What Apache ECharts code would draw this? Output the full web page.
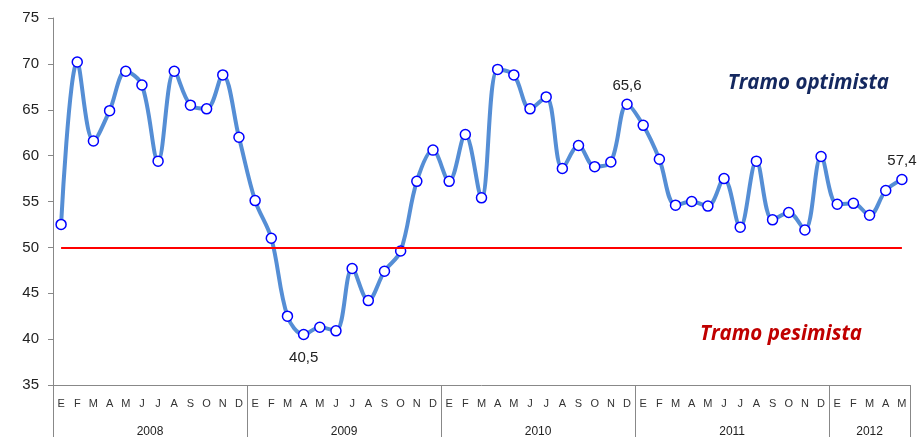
<!DOCTYPE html>
<html>
<head>
<meta charset="utf-8">
<script src="https://cdn.jsdelivr.net/npm/echarts@6/dist/echarts.min.js"></script>
<style>
  html, body { margin: 0; padding: 0; background: #fff; }
  #chart { width: 920px; height: 438px; }
</style>
</head>
<body>
<div id="chart"></div>
<script>
// meses (E..D) y años del periodo
const months = ['E', 'F', 'M', 'A', 'M', 'J', 'J', 'A', 'S', 'O', 'N', 'D']
const years = ['2008', '2009', '2010', '2011', '2012']
const monthsPerYear = [12, 12, 12, 12, 5]
const yTicks = { min: 35, max: 75, step: 5 }
const threshold = 50

// índice mensual, ene 2008 - may 2012
const values2008 = [52.5, 70.2, 61.6, 64.9, 69.2, 67.7, 59.4, 69.2, 65.5, 65.1, 68.8, 62.0]
const values2009 = [55.1, 51.0, 42.5, 40.5, 41.3, 40.9, 47.7, 44.2, 47.4, 49.6, 57.2, 60.6]
const values2010 = [57.2, 62.3, 55.4, 69.4, 68.8, 65.1, 66.4, 58.6, 61.1, 58.8, 59.3, 65.6]
const values2011 = [63.3, 59.6, 54.6, 55.0, 54.5, 57.5, 52.2, 59.4, 53.0, 53.8, 51.9, 59.9]
const values2012 = [54.7, 54.8, 53.5, 56.2, 57.4]
const labeledPoints = [15, 35, 52] // 40,5 / 65,6 / 57,4

const values = [...values2008, ...values2009, ...values2010, ...values2011, ...values2012]

const categories = []
years.forEach((y, i) => {
  months.slice(0, monthsPerYear[i]).forEach((m, j) => categories.push(y + '-' + j + '-' + m))
})

// eje de años: medios meses, para marcar límites y centros
const halfSteps = []
for (let i = 0; i <= categories.length * 2; i++) halfSteps.push('h' + i)
const yearBounds = new Set([0])
const yearCenters = {}
let acc = 0
monthsPerYear.forEach((n, i) => {
  yearCenters[acc + n] = years[i] // centro del año en medios meses
  acc += n * 2
  yearBounds.add(acc)
})

const fmt = (v) => String(v).replace('.', ',')

const seriesData = values.map((v, i) => {
  if (!labeledPoints.includes(i)) return v
  const below = i === 15
  return {
    value: v,
    label: {
      show: true,
      position: below ? 'bottom' : 'top',
      distance: below ? 10 : 5,
      formatter: (p) => fmt(p.value),
      fontSize: 15,
      color: '#222',
      fontFamily: 'Liberation Sans'
    }
  }
})

const chart = echarts.init(document.getElementById('chart'))
chart.setOption({
  animation: false,
  grid: { left: 53, right: 10, top: 18, bottom: 52 },
  xAxis: [
    {
      type: 'category',
      data: categories,
      boundaryGap: true,
      axisLine: { lineStyle: { color: '#888', width: 1 } },
      axisTick: { show: false },
      axisLabel: {
        interval: 0,
        margin: 13,
        fontSize: 11,
        color: '#333',
        fontFamily: 'Liberation Sans',
        formatter: (v) => v.split('-')[2]
      }
    },
    {
      type: 'category',
      data: halfSteps,
      boundaryGap: false,
      position: 'bottom',
      axisLine: { show: false },
      axisTick: {
        show: true,
        length: 52,
        interval: (index) => yearBounds.has(index),
        lineStyle: { color: '#888', width: 1 }
      },
      axisLabel: {
        interval: (index) => yearCenters[index] !== undefined,
        margin: 41,
        fontSize: 12,
        color: '#222',
        fontFamily: 'Liberation Sans',
        formatter: (v, index) => yearCenters[index] || ''
      }
    }
  ],
  yAxis: {
    type: 'value',
    min: yTicks.min,
    max: yTicks.max,
    interval: yTicks.step,
    splitLine: { show: false },
    axisLine: { show: true, lineStyle: { color: '#888', width: 1 } },
    axisTick: { show: true, length: 5, lineStyle: { color: '#888' } },
    axisLabel: { fontSize: 15, color: '#222', margin: 14, fontFamily: 'Liberation Sans' }
  },
  graphic: [
    {
      type: 'text',
      right: 31,
      top: 73,
      style: {
        text: 'Tramo optimista',
        font: 'italic bold 20.5px "Open Sans"',
        fill: '#14285f'
      }
    },
    {
      type: 'text',
      right: 58,
      top: 324,
      style: {
        text: 'Tramo pesimista',
        font: 'italic bold 20.5px "Open Sans"',
        fill: '#c00000'
      }
    }
  ],
  series: [
    {
      type: 'line',
      data: seriesData,
      smooth: 0.35,
      symbol: 'circle',
      symbolSize: 10,
      lineStyle: { color: '#558ed5', width: 4 },
      itemStyle: { color: '#fff', borderColor: '#0000ff', borderWidth: 1.5 },
      z: 3,
      markLine: {
        silent: true,
        symbol: 'none',
        label: { show: false },
        lineStyle: { color: '#ff0000', width: 2, type: 'solid' },
        data: [[{ coord: [0, threshold] }, { coord: [values.length - 1, threshold] }]]
      }
    }
  ]
})
</script>
</body>
</html>
